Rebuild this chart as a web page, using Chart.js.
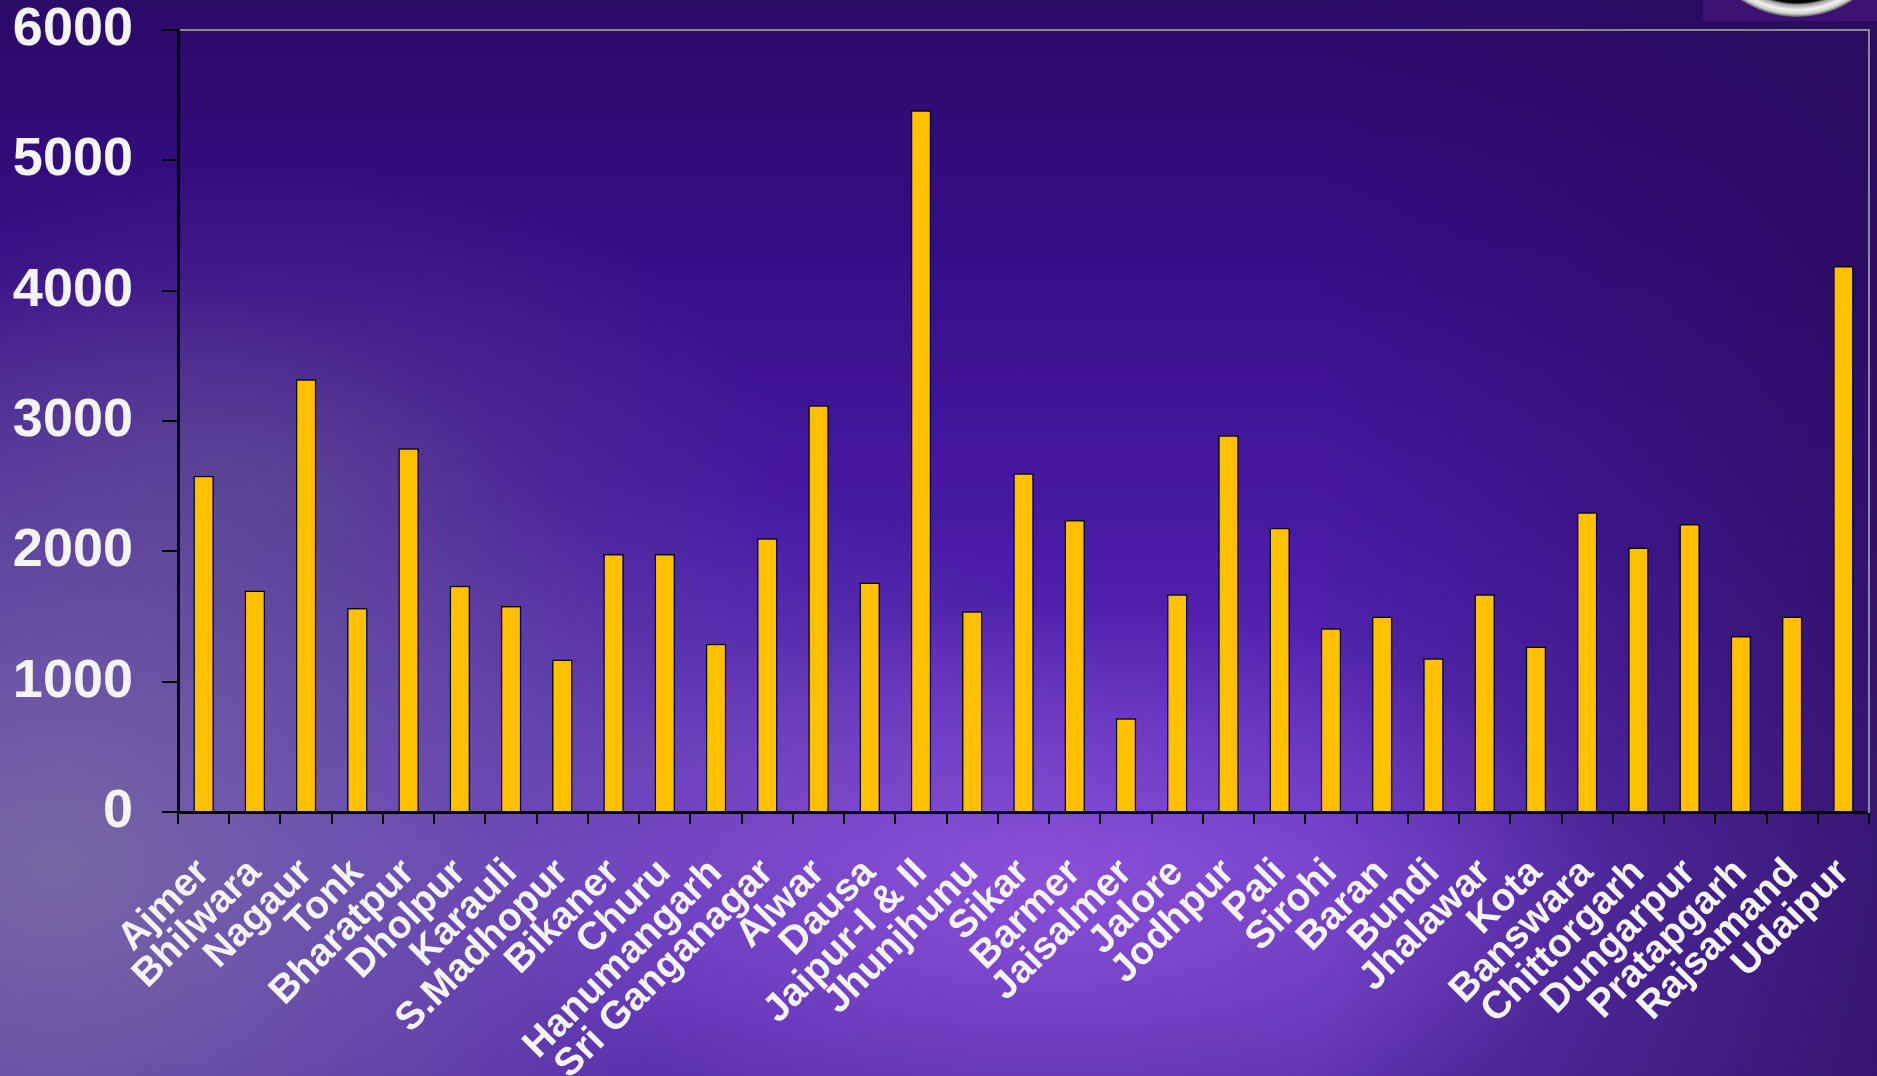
<!DOCTYPE html>
<html>
<head>
<meta charset="utf-8">
<script src="https://cdn.jsdelivr.net/npm/chart.js@4.4.1/dist/chart.umd.min.js"></script>
<style>
    html, body {
        margin: 0;
        padding: 0;
        width: 1877px;
        height: 1076px;
        overflow: hidden;
    }
    body {
        position: relative;
        background:
            radial-gradient(ellipse 30% 26% at 56% 82%, rgba(150, 88, 222, 0.75), rgba(150, 88, 222, 0) 100%),
            radial-gradient(ellipse 34% 55% at 3% 80%, rgba(120, 108, 160, 0.9), rgba(120, 108, 160, 0) 100%),
            radial-gradient(ellipse 28% 30% at 14% 45%, rgba(88, 66, 140, 0.7), rgba(88, 66, 140, 0) 100%),
            radial-gradient(ellipse 25% 25% at 35% 70%, rgba(110, 80, 175, 0.5), rgba(110, 80, 175, 0) 100%),
            linear-gradient(to left, rgba(40, 12, 90, 0.75) 0%, rgba(40, 12, 90, 0) 30%),
            linear-gradient(to bottom, #2b0b68 0%, #360c84 22%, #4a1ca8 52%, #6538c2 80%, #5a30ad 100%);
    }
    .logo-box {
        position: absolute;
        left: 1703px;
        top: 0;
        width: 174px;
        height: 21px;
        background: #3c1272;
    }
    .logo {
        position: absolute;
        left: 1695px;
        top: -187px;
        width: 204px;
        height: 204px;
        border-radius: 50%;
        background: radial-gradient(circle closest-side, #050505 0%, #050505 86%, #9a9a9a 88%, #f2f2ee 93%, #cfcfcf 97%, #555 100%);
    }
    #wrap {
        position: absolute;
        left: 0;
        top: 0;
        width: 1877px;
        height: 1076px;
    }
</style>
</head>
<body>
<div class="logo-box"></div>
<div class="logo"></div>
<div id="wrap"><canvas id="chart"></canvas></div>
<script>
// District names along the x axis
const districts = [
    'Ajmer', 'Bhilwara', 'Nagaur', 'Tonk', 'Bharatpur', 'Dholpur', 'Karauli',
    'S.Madhopur', 'Bikaner', 'Churu', 'Hanumangarh', 'Sri Ganganagar', 'Alwar',
    'Dausa', 'Jaipur-I & II', 'Jhunjhunu', 'Sikar', 'Barmer', 'Jaisalmer',
    'Jalore', 'Jodhpur', 'Pali', 'Sirohi', 'Baran', 'Bundi', 'Jhalawar', 'Kota',
    'Banswara', 'Chittorgarh', 'Dungarpur', 'Pratapgarh', 'Rajsamand', 'Udaipur'
];

// Values
const values = [
    2580, 1700, 3320, 1565, 2790, 1735, 1580,
    1170, 1980, 1980, 1290, 2100, 3120,
    1760, 5385, 1540, 2600, 2240, 720,
    1670, 2890, 2180, 1410, 1500, 1180, 1670, 1270,
    2300, 2030, 2210, 1350, 1500, 4190
];

// Y axis range
const yMin = 0;
const yMax = 6000;
const yStep = 1000;

const labelFont = "'Liberation Sans', Arial, sans-serif";

const ctx = document.getElementById('chart');

new Chart(ctx, {
    type: 'bar',
    data: {
        labels: districts,
        datasets: [{
            data: values,
            backgroundColor: '#ffc000',
            borderColor: '#000000',
            borderWidth: 1.5,
            barPercentage: 0.4,
            categoryPercentage: 1.0
        }]
    },
    options: {
        responsive: true,
        maintainAspectRatio: false,
        animation: false,
        layout: {
            padding: { top: 30, right: 8, left: 0, bottom: 0 }
        },
        plugins: {
            legend: { display: false },
            tooltip: { enabled: false }
        },
        scales: {
            x: {
                position: 'bottom',
                offset: true,
                border: { color: '#000000', width: 3 },
                grid: {
                    display: true,
                    offset: true,
                    drawOnChartArea: false,
                    color: '#000000',
                    lineWidth: 2,
                    tickLength: 12
                },
                ticks: {
                    autoSkip: false,
                    minRotation: 45,
                    maxRotation: 45,
                    padding: 26,
                    color: '#f4f4f4',
                    font: { family: labelFont, size: 39, weight: 'bold' }
                },
                afterFit: (scale) => {
                    scale.height = 264;
                    scale.paddingLeft = 0;
                    scale.paddingRight = 0;
                }
            },
            xTop: {
                position: 'top',
                type: 'category',
                labels: districts,
                border: { color: '#8c8c8c', width: 2 },
                grid: { display: false, drawTicks: false },
                ticks: { display: false }
            },
            y: {
                position: 'left',
                min: yMin,
                max: yMax,
                border: { color: '#000000', width: 3 },
                grid: {
                    drawOnChartArea: false,
                    color: '#000000',
                    lineWidth: 2,
                    tickLength: 16
                },
                ticks: {
                    stepSize: yStep,
                    padding: 29,
                    color: '#f4f4f4',
                    font: { family: labelFont, size: 54, weight: 'bold' },
                    callback: (value) => String(value)
                },
                afterFit: (scale) => {
                    scale.width = 178;
                    scale.paddingTop = 0;
                    scale.paddingBottom = 0;
                }
            },
            yRight: {
                position: 'right',
                min: yMin,
                max: yMax,
                border: { color: '#8c8c8c', width: 2 },
                grid: { display: false, drawTicks: false },
                ticks: { display: false }
            }
        }
    }
});
</script>
</body>
</html>
